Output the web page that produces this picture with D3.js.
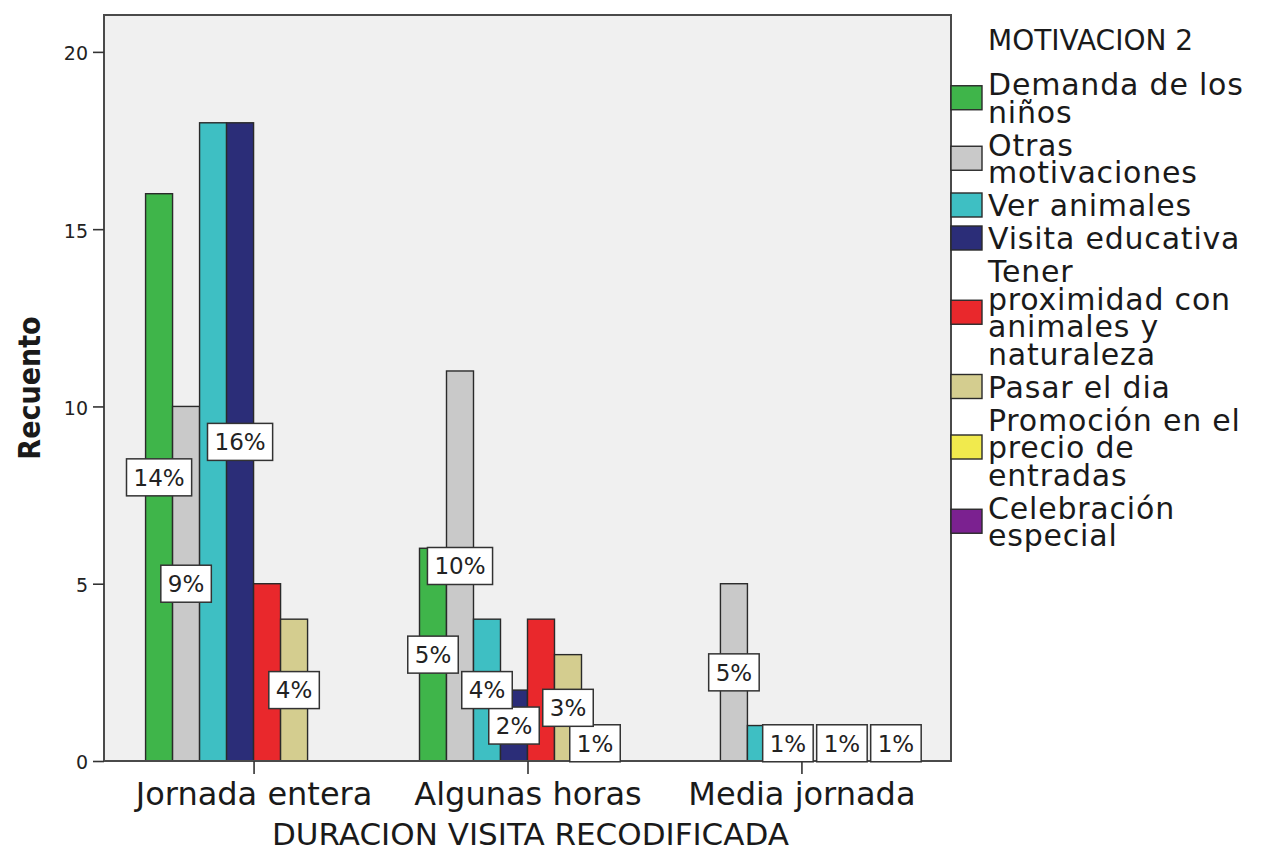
<!DOCTYPE html>
<html><head><meta charset="utf-8">
<script src="https://cdn.jsdelivr.net/npm/d3@7"></script>
<style>body{margin:0;background:#fff} svg{display:block}</style>
</head><body>
<svg id="chart" width="1263" height="851"></svg>
<script>
// ---- data ----
const categories = ["Jornada entera", "Algunas horas", "Media jornada"];
const seriesNames = [
  "Demanda de los niños",
  "Otras motivaciones",
  "Ver animales",
  "Visita educativa",
  "Tener proximidad con animales y naturaleza",
  "Pasar el dia",
  "Promoción en el precio de entradas",
  "Celebración especial"
];
const demandaNinos        = [16, 6, 0];
const otrasMotivaciones   = [10, 11, 5];
const verAnimales         = [18, 4, 1];
const visitaEducativa     = [18, 2, 1];
const tenerProximidad     = [5, 4, 0];
const pasarElDia          = [4, 3, 1];
const promocionPrecio     = [0, 1, 0];
const celebracionEspecial = [0, 0, 1];
const yTickValues = [0, 5, 10, 15, 20];
const xAxisTitle = "DURACION VISITA RECODIFICADA";
const yAxisTitle = "Recuento";
const legendTitle = "MOTIVACION 2";

// ---- styles ----
const seriesColors = ["#3fb54a", "#c9c9c9", "#3ebfc3", "#2b2d78", "#e9282c", "#d4cd8f", "#f1ea4d", "#7b2190"];
const FONT = "'DejaVu Sans', Verdana, sans-serif";

const seriesValues = [demandaNinos, otrasMotivaciones, verAnimales, visitaEducativa,
  tenerProximidad, pasarElDia, promocionPrecio, celebracionEspecial];
const total = d3.sum(seriesValues.flat());

const L = 104, R = 951, T = 15, B = 761;
const svg = d3.select("#chart");

const y = d3.scaleLinear().domain([0, 21.04]).range([B, T]);
const x0 = d3.scalePoint().domain(categories).range([L, R]).padding(0.546);
const x1 = d3.scaleBand().domain(seriesNames).range([-108, 108]);

// plot background
svg.append("rect").attr("x", L).attr("y", T).attr("width", R - L).attr("height", B - T)
  .attr("fill", "#f0f0f0");

// bars
const barData = [];
categories.forEach((c, i) => {
  seriesNames.forEach((s, j) => {
    const v = seriesValues[j][i];
    if (v > 0) barData.push({c, s, j, v});
  });
});
svg.append("g").selectAll("rect").data(barData).join("rect")
  .attr("x", d => x0(d.c) + x1(d.s))
  .attr("y", d => y(d.v))
  .attr("width", x1.bandwidth())
  .attr("height", d => y(0) - y(d.v))
  .attr("fill", d => seriesColors[d.j])
  .attr("stroke", "#2a2a2a").attr("stroke-width", 1.4);

// frame
svg.append("rect").attr("x", L).attr("y", T).attr("width", R - L).attr("height", B - T)
  .attr("fill", "none").attr("stroke", "#4a4a4a").attr("stroke-width", 2);

// y axis
const yAxis = svg.append("g").attr("transform", `translate(${L},0)`)
  .call(d3.axisLeft(y).tickValues(yTickValues).tickSize(11).tickPadding(5));
yAxis.select(".domain").remove();
yAxis.selectAll("line").attr("stroke", "#333").attr("stroke-width", 1.6);
yAxis.selectAll("text").attr("font-family", FONT).attr("font-size", 19).attr("fill", "#222")
  .attr("dy", "0.42em");

// x axis
const xAxis = svg.append("g").attr("transform", `translate(0,${B})`)
  .call(d3.axisBottom(x0).tickSize(13).tickPadding(12));
xAxis.select(".domain").remove();
xAxis.selectAll("line").attr("stroke", "#333").attr("stroke-width", 1.6);
xAxis.selectAll("text").attr("font-family", FONT).attr("font-size", 32).attr("fill", "#1a1a1a")
  .attr("dy", "0.6em");

// axis titles
svg.append("text").attr("x", (L + R) / 2 + 3).attr("y", 845).attr("text-anchor", "middle")
  .attr("font-family", FONT).attr("font-size", 31).attr("fill", "#1a1a1a").text(xAxisTitle);
svg.append("text").attr("transform", `translate(40,${(T + B) / 2}) rotate(-90)`)
  .attr("text-anchor", "middle")
  .attr("font-family", "'Liberation Sans Narrow', 'DejaVu Sans Condensed', sans-serif")
  .attr("font-weight", "bold").attr("font-size", 30).attr("fill", "#1a1a1a").text(yAxisTitle);

// percentage labels with overlap avoidance
const measure = svg.append("text").attr("font-family", FONT).attr("font-size", 23);
function textWidth(t) { measure.text(t); return measure.node().getComputedTextLength(); }
const placed = [];
const tol = 3;
categories.forEach((c, i) => {
  for (let j = seriesNames.length - 1; j >= 0; j--) {
    const v = seriesValues[j][i];
    if (v <= 0) continue;
    const txt = Math.round(v / total * 100) + "%";
    const w = textWidth(txt) + 14, h = 37;
    const cx = x0(c) + x1(seriesNames[j]) + x1.bandwidth() / 2;
    const cy = y(v / 2);
    const box = {x: cx - w / 2, y: cy - h / 2, w, h, cx, cy, txt};
    const hit = placed.some(p =>
      Math.min(p.x + p.w, box.x + box.w) - Math.max(p.x, box.x) > tol &&
      Math.min(p.y + p.h, box.y + box.h) - Math.max(p.y, box.y) > tol);
    if (!hit) placed.push(box);
  }
});
measure.remove();
const lg = svg.append("g").selectAll("g").data(placed).join("g");
lg.append("rect").attr("x", d => d.x).attr("y", d => d.y).attr("width", d => d.w).attr("height", d => d.h)
  .attr("fill", "#fff").attr("stroke", "#333").attr("stroke-width", 1.5);
lg.append("text").attr("x", d => d.cx).attr("y", d => d.cy).attr("dy", "0.36em")
  .attr("text-anchor", "middle").attr("font-family", FONT).attr("font-size", 23).attr("fill", "#222")
  .text(d => d.txt);

// legend
const leg = svg.append("g");
leg.append("text").attr("x", 988).attr("y", 50).attr("font-family", FONT).attr("font-size", 28)
  .attr("fill", "#1a1a1a").text(legendTitle);
const legFont = 30, lineH = 27.5, gap = 5.5, maxW = 265, legSpacing = 0.8;
const m2 = leg.append("text").attr("font-family", FONT).attr("font-size", legFont)
  .attr("letter-spacing", legSpacing);
function wrap(str) {
  const words = str.split(" "); const lines = []; let cur = "";
  words.forEach(wd => {
    const test = cur ? cur + " " + wd : wd;
    m2.text(test);
    if (m2.node().getComputedTextLength() > maxW && cur) { lines.push(cur); cur = wd; }
    else cur = test;
  });
  if (cur) lines.push(cur);
  return lines;
}
let cursor = 84;
seriesNames.forEach((s, j) => {
  const lines = wrap(s);
  const mid = cursor + (lines.length - 1) * lineH / 2;
  leg.append("rect").attr("x", 951).attr("y", mid - 12).attr("width", 31).attr("height", 24)
    .attr("fill", seriesColors[j]).attr("stroke", "#2a2a2a").attr("stroke-width", 1.4);
  lines.forEach((ln, k) => {
    leg.append("text").attr("x", 988).attr("y", cursor + k * lineH).attr("dy", "0.38em")
      .attr("font-family", FONT).attr("font-size", legFont).attr("letter-spacing", legSpacing)
      .attr("fill", "#1a1a1a").text(ln);
  });
  cursor += lines.length * lineH + gap;
});
m2.remove();
</script>
</body></html>
